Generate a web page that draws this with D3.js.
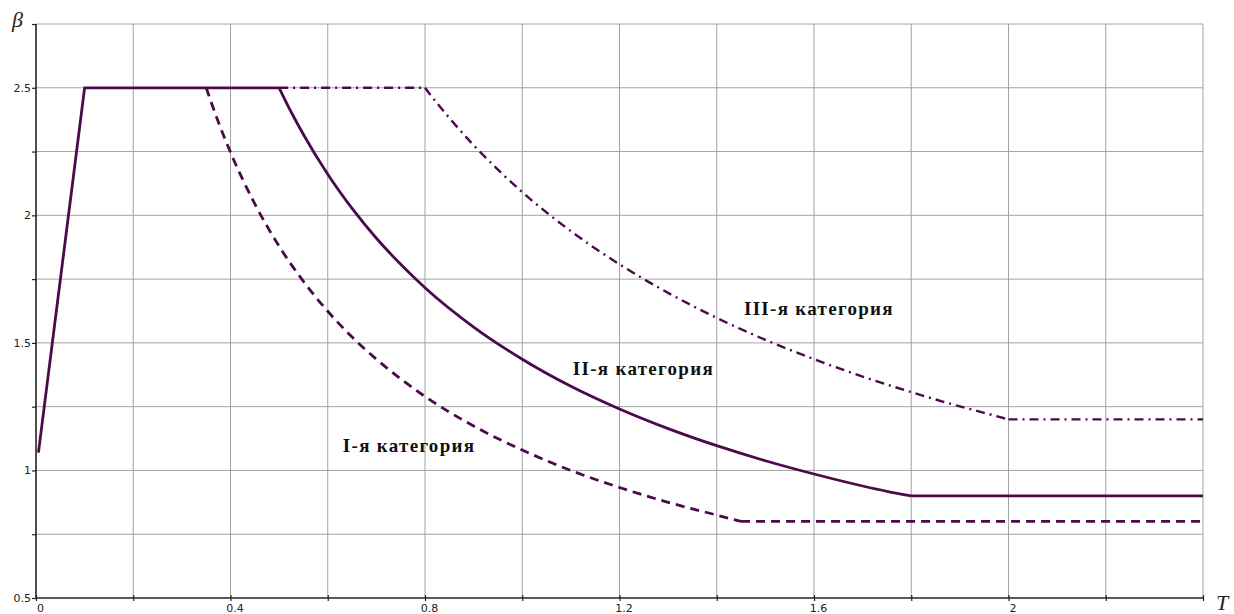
<!DOCTYPE html>
<html>
<head>
<meta charset="utf-8">
<script src="https://cdn.jsdelivr.net/npm/d3@7"></script>
<style>
  body { margin: 0; background: #fff; }
  .grid line { stroke: #a3a3a3; stroke-width: 1; }
  .axis-line { stroke: #222; stroke-width: 1.6; }
  .tick-lbl { font-family: "DejaVu Sans", sans-serif; font-size: 11px; fill: #222; }
  .cat-lbl { font-family: "Liberation Serif", serif; font-weight: bold; font-size: 19px; letter-spacing: 1.3px; fill: #111; }
  .var-lbl { font-family: "Liberation Serif", serif; font-style: italic; font-size: 22px; fill: #222; }
</style>
</head>
<body>
<svg id="chart" width="1234" height="614"></svg>
<script>
// spectral coefficient beta(T), three soil categories
const cat1T = [0.35, 0.375, 0.4, 0.45, 0.5, 0.55, 0.6, 0.65, 0.7, 0.75, 0.8, 0.9, 1.0, 1.1, 1.2, 1.3, 1.4, 1.45, 2.4];
const cat1B = [2.5, 2.366, 2.247, 2.045, 1.879, 1.741, 1.624, 1.523, 1.436, 1.359, 1.29, 1.174, 1.08, 1.0, 0.933, 0.875, 0.825, 0.8, 0.8];

const cat2T = [0.005, 0.1, 0.5, 0.525, 0.55, 0.6, 0.65, 0.7, 0.75, 0.8, 0.9, 1.0, 1.1, 1.2, 1.3, 1.4, 1.5, 1.6, 1.7, 1.75, 1.8, 2.4];
const cat2B = [1.07, 2.5, 2.5, 2.404, 2.317, 2.161, 2.027, 1.91, 1.808, 1.716, 1.562, 1.436, 1.33, 1.241, 1.164, 1.097, 1.038, 0.986, 0.939, 0.918, 0.9, 0.9];

const cat3T = [0.5, 0.8, 0.825, 0.85, 0.9, 0.95, 1.0, 1.1, 1.2, 1.3, 1.4, 1.5, 1.6, 1.7, 1.8, 1.9, 1.95, 2.0, 2.4];
const cat3B = [2.5, 2.5, 2.439, 2.382, 2.275, 2.179, 2.091, 1.938, 1.808, 1.696, 1.598, 1.512, 1.436, 1.368, 1.307, 1.251, 1.226, 1.2, 1.2];

const catNames = ["I-я категория", "II-я категория", "III-я категория"];

const xTicks = [0, 0.2, 0.4, 0.6, 0.8, 1.0, 1.2, 1.4, 1.6, 1.8, 2.0, 2.2, 2.4];
const xTickLabels = ["0", "", "0.4", "", "0.8", "", "1.2", "", "1.6", "", "2", "", ""];
const yTicks = [0.5, 0.75, 1.0, 1.25, 1.5, 1.75, 2.0, 2.25, 2.5, 2.75];
const yTickLabels = ["0.5", "", "1", "", "1.5", "", "2", "", "2.5", ""];

const svg = d3.select("#chart");
const lineColor = "#4b0a4b";

const x = d3.scaleLinear().domain([0, 2.4]).range([36, 1203]);
const y = d3.scaleLinear().domain([0.5, 2.75]).range([598, 24]);

// grid
const grid = svg.append("g").attr("class", "grid");
grid.selectAll(".vg").data(xTicks.slice(1))
  .enter().append("line")
    .attr("x1", d => x(d)).attr("x2", d => x(d))
    .attr("y1", y(2.75)).attr("y2", y(0.5));
grid.selectAll(".hg").data(yTicks.slice(1))
  .enter().append("line")
    .attr("x1", x(0)).attr("x2", x(2.4))
    .attr("y1", d => y(d)).attr("y2", d => y(d));

// axes
const xAxis = d3.axisBottom(x).tickValues(xTicks).tickSize(0).tickPadding(6).tickFormat((d, i) => xTickLabels[i]);
const gx = svg.append("g").attr("transform", `translate(0,${y(0.5)})`).call(xAxis);
gx.select(".domain").remove();
gx.selectAll("text").attr("class", "tick-lbl").attr("dx", 4);
gx.selectAll(".tick").append("line")
  .attr("y1", -3).attr("y2", 3).attr("stroke", "#222").attr("stroke-width", 1.2);

const yAxis = d3.axisLeft(y).tickValues(yTicks).tickSize(4).tickPadding(1).tickFormat((d, i) => yTickLabels[i]);
const gy = svg.append("g").attr("transform", `translate(${x(0)},0)`).call(yAxis);
gy.select(".domain").remove();
gy.selectAll("line").attr("stroke", "#222").attr("stroke-width", 1.2);
gy.selectAll("text").attr("class", "tick-lbl");

svg.append("line").attr("class", "axis-line")
  .attr("x1", x(0)).attr("x2", x(2.4)).attr("y1", y(0.5)).attr("y2", y(0.5));
svg.append("line").attr("class", "axis-line")
  .attr("x1", x(0)).attr("x2", x(0)).attr("y1", y(0.5)).attr("y2", y(2.75));

// curves: straight pieces stay linear, the decaying part is smoothed
const straight = d3.line().x(d => x(d[0])).y(d => y(d[1]));
const smooth = d3.line().x(d => x(d[0])).y(d => y(d[1])).curve(d3.curveMonotoneX);

function curvePath(T, B, t0, t1) {
  const pts = d3.zip(T, B);
  const i0 = T.indexOf(t0), i1 = T.indexOf(t1);
  let p = "";
  if (i0 > 0) p += straight(pts.slice(0, i0 + 1));
  p += smooth(pts.slice(i0, i1 + 1));
  if (i1 < pts.length - 1) p += straight(pts.slice(i1));
  return p;
}

const series = [
  { d: curvePath(cat3T, cat3B, 0.8, 2.0), dash: "9,5,2,5", w: 2.4 },
  { d: curvePath(cat1T, cat1B, 0.35, 1.45), dash: "9,6", w: 2.8 },
  { d: curvePath(cat2T, cat2B, 0.5, 1.8), dash: null, w: 2.8 }
];

svg.selectAll(".curve").data(series)
  .enter().append("path")
    .attr("class", "curve")
    .attr("d", d => d.d)
    .attr("fill", "none")
    .attr("stroke", lineColor)
    .attr("stroke-width", d => d.w)
    .attr("stroke-dasharray", d => d.dash)
    .attr("stroke-linejoin", "round");

// category labels, placed in data units
const labelPos = [[0.631, 1.073], [1.104, 1.375], [1.456, 1.61]];
svg.selectAll(".cat-lbl").data(catNames)
  .enter().append("text")
    .attr("class", "cat-lbl")
    .attr("x", (d, i) => x(labelPos[i][0]))
    .attr("y", (d, i) => y(labelPos[i][1]))
    .text(d => d);

svg.append("text").attr("class", "var-lbl").attr("x", 12).attr("y", 27).text("β");
svg.append("text").attr("class", "var-lbl").attr("x", 1216).attr("y", 610).text("T");
</script>
</body>
</html>
